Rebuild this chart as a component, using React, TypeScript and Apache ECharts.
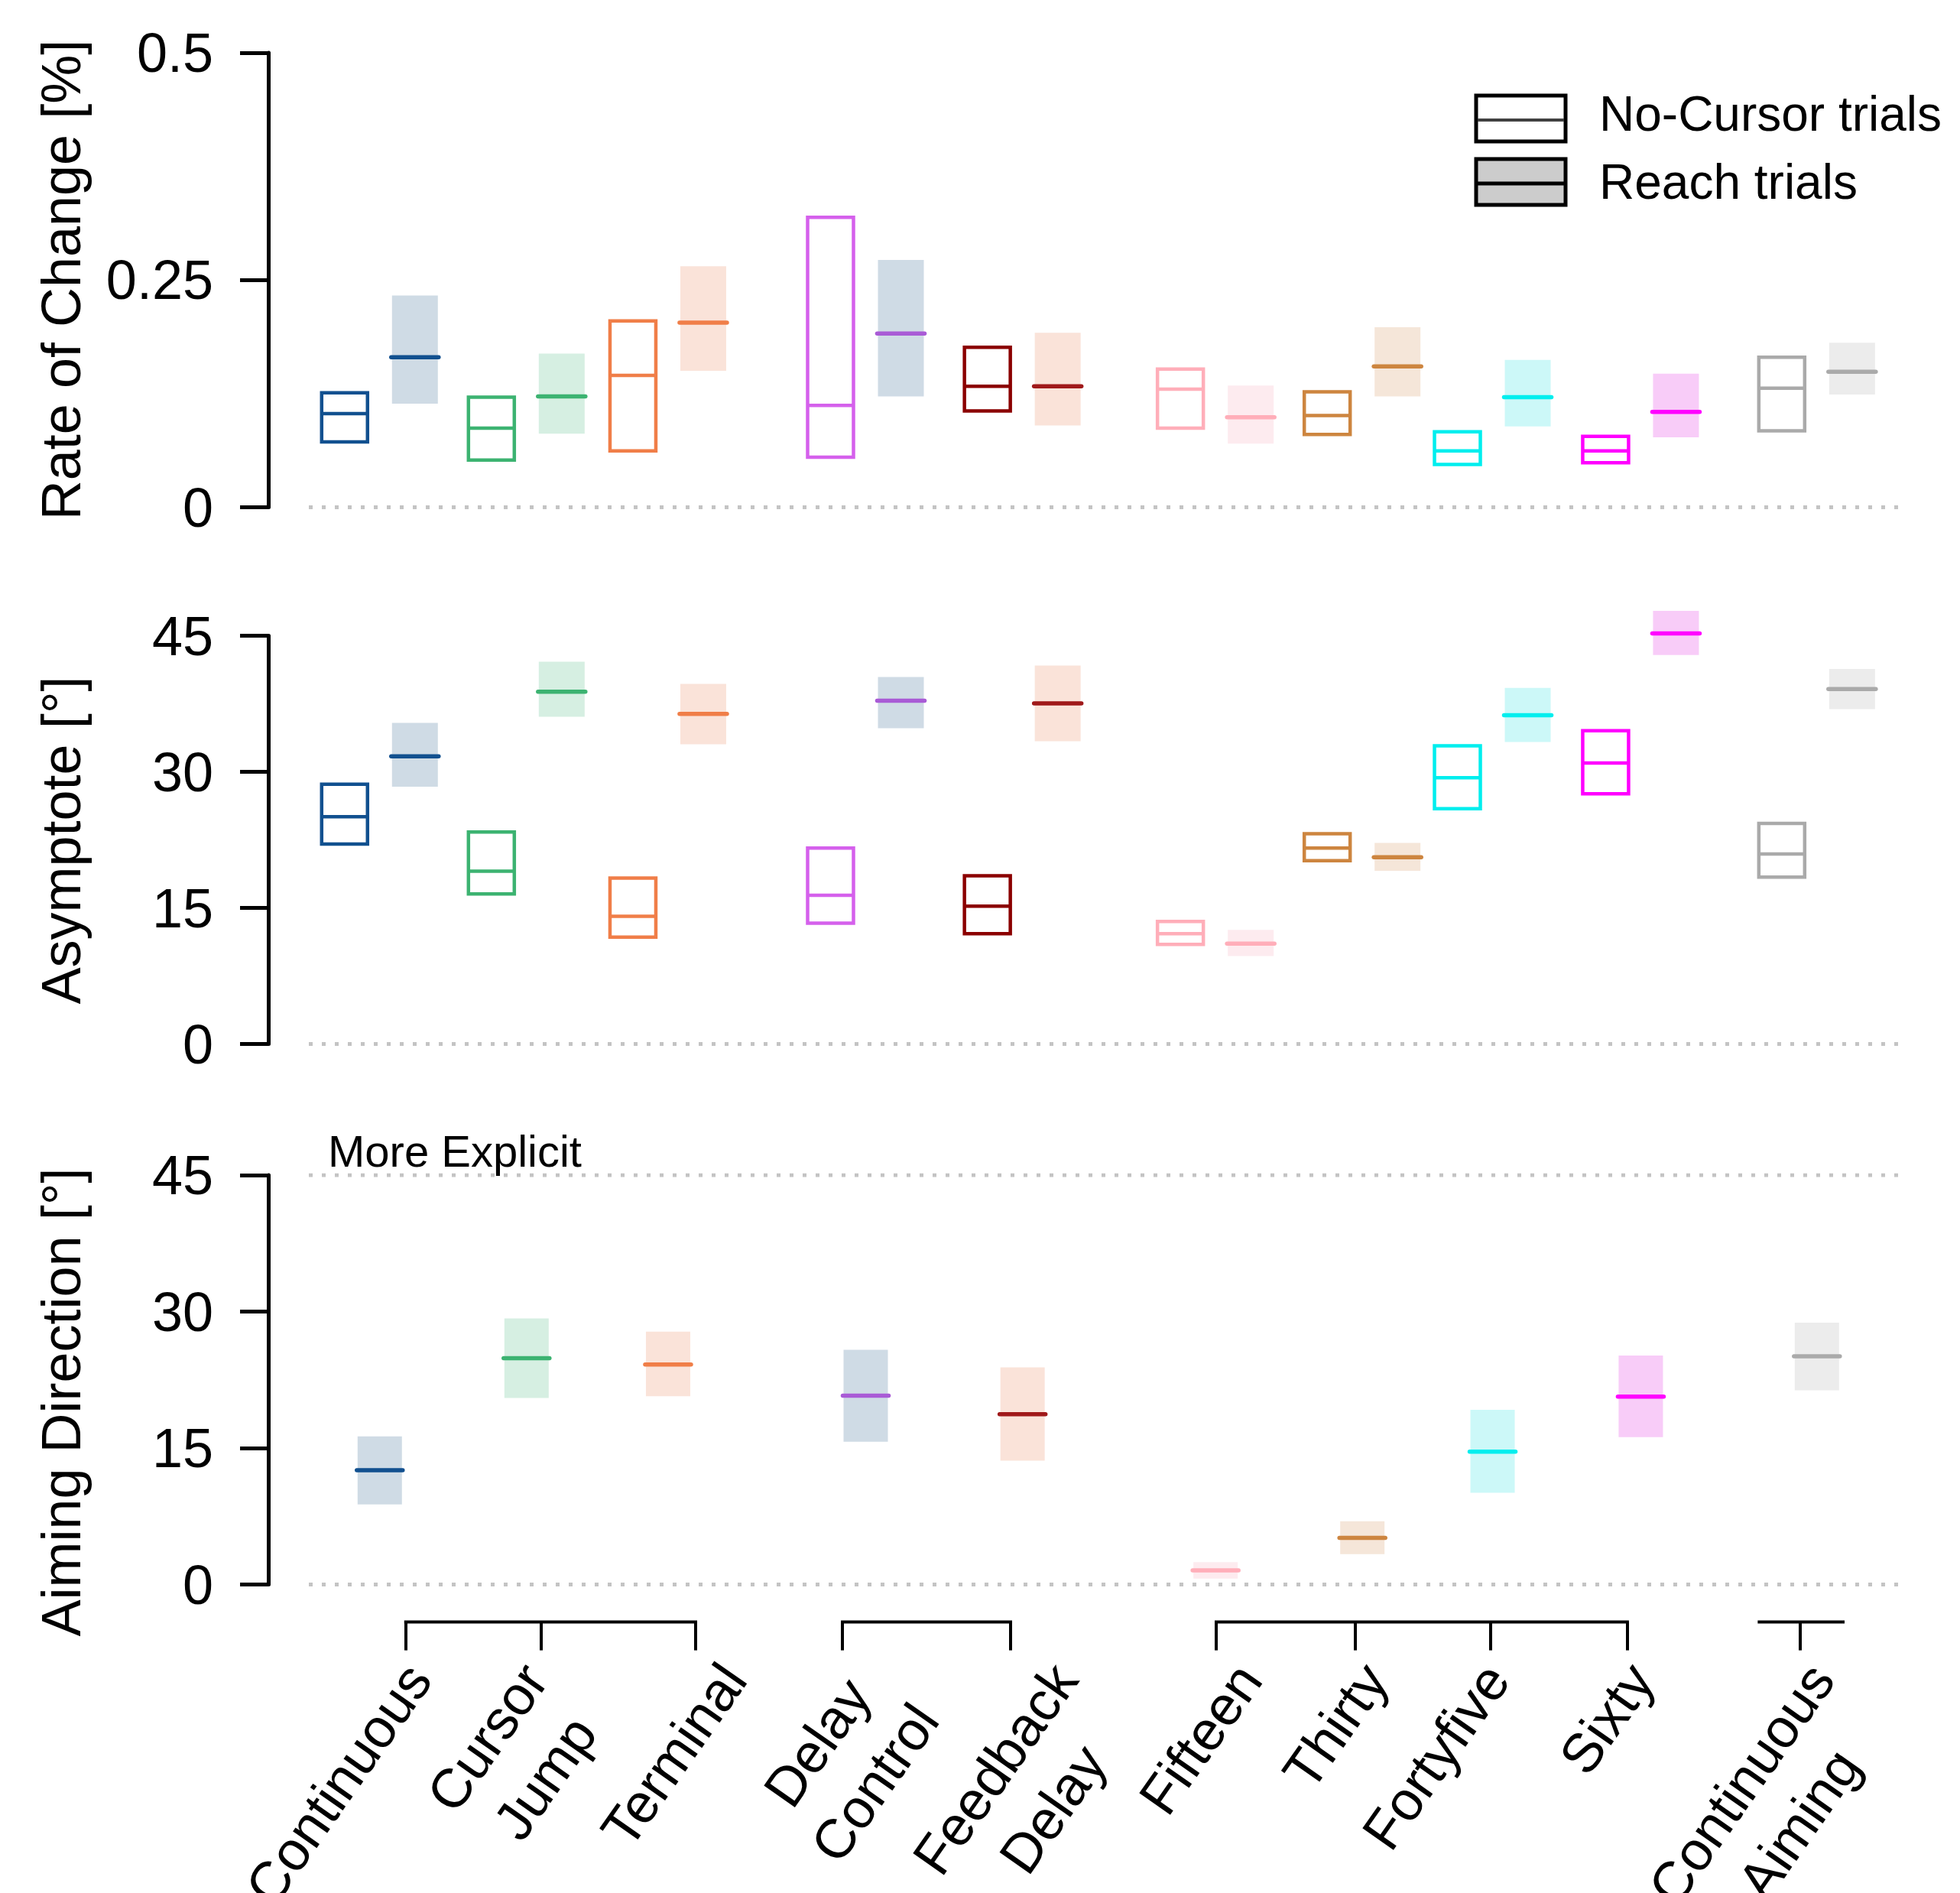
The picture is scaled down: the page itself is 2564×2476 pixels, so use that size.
import React, { useEffect, useRef } from 'react';
import * as echarts from 'echarts';

// ---------------- data ----------------
const conditions = [
  'Continuous', 'Cursor\nJump', 'Terminal', 'Delay\nControl', 'Feedback\nDelay',
  'Fifteen', 'Thirty', 'Fortyfive', 'Sixty', 'Continuous\nAiming',
];
// x position of each condition on the (hidden) 0-100 horizontal scale
const conditionPos = [4.45, 13.66, 22.54, 34.94, 44.78, 56.89, 66.1, 74.27, 83.57, 94.62];
// x position of each axis tick on the same scale
const tickPos = [6.08, 14.58, 24.27, 33.48, 44.03, 56.93, 65.66, 74.15, 82.73, 93.57];
// x position where each (rotated) tick label ends, on the same scale
const labelPos = [5.06, 12.36, 24.83, 33.27, 45.6, 57.16, 65.07, 72.7, 81.76, 93.08];
// groups of the bracket under the bottom panel
const bracketGroups = [[6.08, 24.27], [33.48, 44.03], [56.93, 82.73], [91.0, 96.26]];

// [lower, mean, upper]
const rateNoCursor = [
  [0.072, 0.103, 0.126], [0.052, 0.087, 0.121], [0.062, 0.145, 0.205], [0.055, 0.112, 0.319],
  [0.106, 0.133, 0.176], [0.087, 0.130, 0.152], [0.080, 0.101, 0.127], [0.047, 0.062, 0.083],
  [0.049, 0.062, 0.078], [0.084, 0.131, 0.165],
];
const rateReach = [
  [0.114, 0.165, 0.233], [0.081, 0.122, 0.169], [0.150, 0.203, 0.265], [0.122, 0.191, 0.272],
  [0.090, 0.133, 0.192], [0.070, 0.099, 0.134], [0.122, 0.155, 0.198], [0.089, 0.121, 0.162],
  [0.077, 0.105, 0.147], [0.124, 0.149, 0.181],
];
const asymNoCursor = [
  [22.05, 25.06, 28.63], [16.55, 19.04, 23.37], [11.78, 14.07, 18.28], [13.32, 16.4, 21.6],
  [12.15, 15.2, 18.55], [10.98, 12.15, 13.5], [20.2, 21.6, 23.18], [25.93, 29.35, 32.88],
  [27.58, 30.97, 34.54], [18.4, 20.95, 24.31],
];
const asymReach = [
  [28.37, 31.72, 35.41], [36.08, 38.83, 42.14], [33.03, 36.39, 39.69], [34.8, 37.85, 40.45],
  [33.37, 37.55, 41.73], [9.7, 11.06, 12.57], [19.1, 20.58, 22.16], [33.3, 36.24, 39.25],
  [42.89, 45.26, 47.75], [36.91, 39.14, 41.35],
];
const aimReach = [
  [8.81, 12.57, 16.29], [20.51, 24.88, 29.26], [20.7, 24.19, 27.8], [15.7, 20.77, 25.8],
  [13.62, 18.72, 23.87], [0.65, 1.56, 2.47], [3.34, 5.13, 6.96], [10.09, 14.61, 19.2],
  [16.21, 20.66, 25.18], [21.35, 25.1, 28.79],
];

const rateTicks = [0, 0.25, 0.5];
const degTicks = [0, 15, 30, 45];
const refLinesRate = [0];
const refLinesAsym = [0];
const refLinesAim = [0, 45];

// ---------------- styles ----------------
const noCursorColors = ['#11508f', '#3cb371', '#f07e48', '#d560ec', '#8b0000', '#ffaeb9', '#cd853f', '#00eeee', '#ff00ff', '#aaaaaa'];
const reachLineColors = ['#11508f', '#3cb371', '#f07e48', '#a95bd6', '#a0191a', '#ffaeb9', '#cd853f', '#00eeee', '#ff00ff', '#aaaaaa'];
const reachFillColors = ['#cfdbe5', '#d6efe2', '#fae3d9', '#cfdbe5', '#fae3d9', '#fdebef', '#f5e6d9', '#ccf8f8', '#f8ccf8', '#ececec'];

const FONT = '"Liberation Sans", Arial, Helvetica, sans-serif';
const X_MIN = 0;
const X_MAX = 100;
const SIDE = 46; // px offset of no-cursor / reach boxes from the condition centre
const HALF_W = 30;
const AXIS_OFFSET = 49;

function toData(values: number[][]) {
  return values.map((v, i) => [conditionPos[i], v[0], v[1], v[2]]);
}

function renderBox(side: number, kind: 'open' | 'filled', halfW: number) {
  return (params: any, api: any) => {
    const i = params.dataIndex;
    const x = api.value(0);
    const pLo = api.coord([x, api.value(1)]);
    const pMid = api.coord([x, api.value(2)]);
    const pHi = api.coord([x, api.value(3)]);
    const cx = pLo[0] + side;
    const children: any[] = [];
    if (kind === 'open') {
      children.push({
        type: 'rect',
        shape: { x: cx - halfW, y: pHi[1], width: halfW * 2, height: pLo[1] - pHi[1] },
        style: { fill: 'none', stroke: noCursorColors[i], lineWidth: 4.5 },
      });
      children.push({
        type: 'line',
        shape: { x1: cx - halfW, y1: pMid[1], x2: cx + halfW, y2: pMid[1] },
        style: { stroke: noCursorColors[i], lineWidth: 4.5 },
      });
    } else {
      children.push({
        type: 'rect',
        shape: { x: cx - halfW, y: pHi[1], width: halfW * 2, height: pLo[1] - pHi[1] },
        style: { fill: reachFillColors[i], stroke: null },
      });
      children.push({
        type: 'line',
        shape: { x1: cx - halfW - 1, y1: pMid[1], x2: cx + halfW + 1, y2: pMid[1] },
        style: { stroke: reachLineColors[i], lineWidth: 5.5, lineCap: 'round' },
      });
    }
    return { type: 'group', children };
  };
}

function refLineSeries(values: number[], gridIdx: number) {
  return values.map((v) => ({
    type: 'line',
    xAxisIndex: gridIdx,
    yAxisIndex: gridIdx,
    data: [[X_MIN, v], [X_MAX, v]],
    showSymbol: false,
    symbol: 'none',
    silent: true,
    z: 1,
    lineStyle: { color: '#c4c4c4', width: 5, type: [5, 12] },
  }));
}

function boxSeries(values: number[][], gridIdx: number, side: number, kind: 'open' | 'filled', halfW: number) {
  return {
    type: 'custom',
    xAxisIndex: gridIdx,
    yAxisIndex: gridIdx,
    data: toData(values),
    encode: { x: 0, y: [1, 2, 3] },
    clip: false,
    z: 3,
    renderItem: renderBox(side, kind, halfW),
  };
}

function yAxisCfg(gridIdx: number, ticks: number[]) {
  return {
    type: 'value',
    gridIndex: gridIdx,
    min: ticks[0],
    max: ticks[ticks.length - 1],
    interval: ticks[1] - ticks[0],
    offset: 53,
    axisLine: { show: true, onZero: false, lineStyle: { color: '#000', width: 5 } },
    axisTick: { show: true, length: 37, lineStyle: { color: '#000', width: 5 } },
    axisLabel: {
      fontSize: 72, fontFamily: FONT, color: '#000', margin: 72,
      formatter: (v: number) => String(v),
    },
    splitLine: { show: false },
  };
}

const gridBase = { left: 404, width: 2085, containLabel: false, outerBoundsMode: 'none' };
const grids = [
  { ...gridBase, top: 68.9, height: 594.6 },
  { ...gridBase, top: 831.6, height: 533.9 },
  { ...gridBase, top: 1537.1, height: 535.5 },
  { ...gridBase, top: 1537.1, height: 535.5 }, // carries the tick labels of the bottom axis
];

function labelFor(value: number) {
  const idx = labelPos.findIndex((p) => Math.abs(p - value) < 1e-6);
  if (idx < 0) return '';
  return conditions[idx].split('\n').map((s) => `{c|${s}}`).join('\n');
}

export default function App() {
  const ref = useRef<HTMLDivElement>(null);
  useEffect(() => {
    if (!ref.current) return;
    const chart = echarts.init(ref.current, undefined, { renderer: 'svg' });
    const option: any = {
      animation: false,
      backgroundColor: '#ffffff',
      grid: grids,
      xAxis: [
        { type: 'value', gridIndex: 0, min: X_MIN, max: X_MAX, show: false },
        { type: 'value', gridIndex: 1, min: X_MIN, max: X_MAX, show: false },
        {
          type: 'value', gridIndex: 2, min: X_MIN, max: X_MAX, position: 'bottom', offset: AXIS_OFFSET,
          axisLine: { show: false, onZero: false },
          splitLine: { show: false },
          axisTick: { show: true, length: 37, customValues: tickPos, lineStyle: { color: '#000', width: 4 } },
          axisLabel: { show: false },
        },
        {
          type: 'value', gridIndex: 3, min: X_MIN, max: X_MAX, position: 'bottom', offset: AXIS_OFFSET,
          axisLine: { show: false, onZero: false },
          splitLine: { show: false },
          axisTick: { show: false },
          axisLabel: {
            show: true,
            customValues: labelPos,
            rotate: 55,
            margin: 36,
            verticalAlign: 'top',
            fontSize: 72,
            fontFamily: FONT,
            color: '#000',
            formatter: (v: number) => labelFor(v),
            rich: { c: { fontSize: 72, fontFamily: FONT, color: '#000', align: 'center', lineHeight: 92 } },
          },
        },
      ],
      yAxis: [
        yAxisCfg(0, rateTicks), yAxisCfg(1, degTicks), yAxisCfg(2, degTicks),
        { type: 'value', gridIndex: 3, min: 0, max: 45, show: false },
      ],
      series: [
        ...refLineSeries(refLinesRate, 0),
        ...refLineSeries(refLinesAsym, 1),
        ...refLineSeries(refLinesAim, 2),
        boxSeries(rateNoCursor, 0, -SIDE, 'open', HALF_W),
        boxSeries(rateReach, 0, SIDE, 'filled', HALF_W),
        boxSeries(asymNoCursor, 1, -SIDE, 'open', HALF_W),
        boxSeries(asymReach, 1, SIDE, 'filled', HALF_W),
        boxSeries(aimReach, 2, 0, 'filled', 29),
        {
          type: 'custom',
          xAxisIndex: 2,
          yAxisIndex: 2,
          data: bracketGroups.map((g) => [g[0], g[1], 0]),
          encode: { x: [0, 1], y: 2 },
          clip: false,
          silent: true,
          renderItem: (params: any, api: any) => {
            const p1 = api.coord([api.value(0), 0]);
            const p2 = api.coord([api.value(1), 0]);
            const y = p1[1] + AXIS_OFFSET;
            return {
              type: 'line',
              shape: { x1: p1[0] - 2, y1: y, x2: p2[0] + 2, y2: y },
              style: { stroke: '#000', lineWidth: 4 },
            };
          },
        },
      ],
      graphic: [
        { type: 'text', x: 80, y: 366, rotation: Math.PI / 2, style: { text: 'Rate of Change [%]', fontSize: 72, fontFamily: FONT, fill: '#000', align: 'center', verticalAlign: 'middle' } },
        { type: 'text', x: 80, y: 1099, rotation: Math.PI / 2, style: { text: 'Asymptote [°]', fontSize: 72, fontFamily: FONT, fill: '#000', align: 'center', verticalAlign: 'middle' } },
        { type: 'text', x: 80, y: 1834, rotation: Math.PI / 2, style: { text: 'Aiming Direction [°]', fontSize: 72, fontFamily: FONT, fill: '#000', align: 'center', verticalAlign: 'middle' } },
        { type: 'text', x: 429, y: 1505, style: { text: 'More Explicit', fontSize: 58, fontFamily: FONT, fill: '#000', align: 'left', verticalAlign: 'middle' } },
        // legend
        { type: 'rect', shape: { x: 1931, y: 125, width: 117, height: 60 }, style: { fill: '#fff', stroke: '#000', lineWidth: 5 }, z: 10 },
        { type: 'line', shape: { x1: 1933, y1: 157, x2: 2046, y2: 157 }, style: { stroke: '#404040', lineWidth: 4 }, z: 11 },
        { type: 'rect', shape: { x: 1931, y: 208, width: 117, height: 60 }, style: { fill: '#cccccc', stroke: '#000', lineWidth: 5 }, z: 10 },
        { type: 'line', shape: { x1: 1933, y1: 240, x2: 2046, y2: 240 }, style: { stroke: '#000', lineWidth: 5 }, z: 11 },
        { type: 'text', x: 2092, y: 149, style: { text: 'No-Cursor trials', fontSize: 64, fontFamily: FONT, fill: '#000', align: 'left', verticalAlign: 'middle' }, z: 11 },
        { type: 'text', x: 2092, y: 238, style: { text: 'Reach trials', fontSize: 64, fontFamily: FONT, fill: '#000', align: 'left', verticalAlign: 'middle' }, z: 11 },
      ],
    };
    chart.setOption(option);
    return () => chart.dispose();
  }, []);
  return (
    <div
      ref={ref}
      style={{ position: 'fixed', left: 0, top: 0, width: 2564, height: 2476, background: '#fff' }}
    />
  );
}
